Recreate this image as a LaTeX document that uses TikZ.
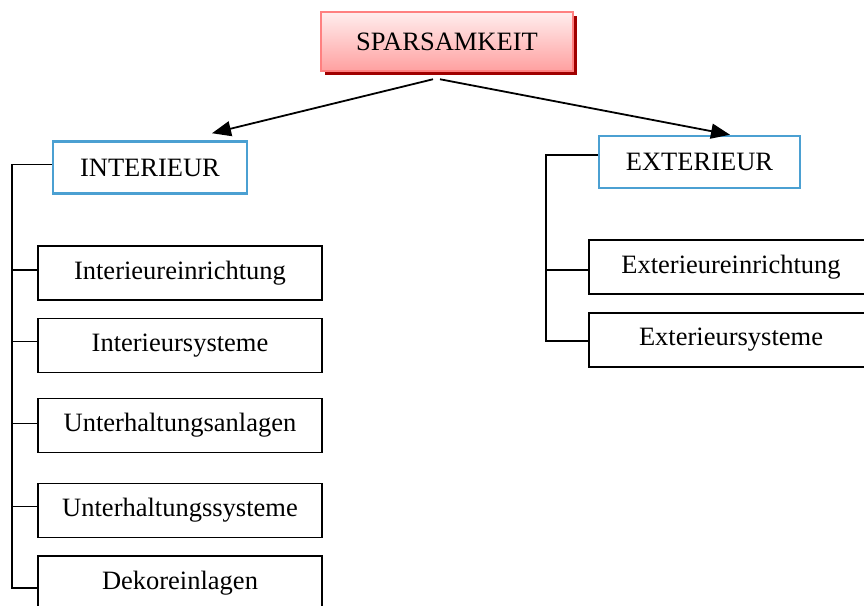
\documentclass[tikz,border=0pt]{standalone}
\usepackage{fontspec}
\setmainfont{Liberation Serif}
\usetikzlibrary{arrows.meta,shadows}
\definecolor{sparborder}{RGB}{255,128,128}
\definecolor{sparshadow}{RGB}{160,0,0}
\definecolor{spartop}{RGB}{255,238,238}
\definecolor{sparbottom}{RGB}{255,160,160}
\definecolor{groupblue}{RGB}{75,160,210}

\begin{document}
\begin{tikzpicture}[x=1pt,y=-1pt]
\tikzstyle{every node}+=[inner sep=0pt,font=\fontsize{26.5}{30}\selectfont]
\tikzstyle{rootbox}=[draw=sparborder,line width=2.5pt,minimum width=252pt,minimum height=59pt,
  top color=spartop,bottom color=sparbottom,
  drop shadow={shadow xshift=4pt,shadow yshift=-4pt,fill=sparshadow,opacity=1}]
\tikzstyle{groupbox}=[draw=groupblue,line width=2.5pt,fill=white,minimum height=52pt]
\tikzstyle{itembox}=[draw=black,line width=1.6pt,fill=white,minimum width=284pt,minimum height=54pt]
\tikzstyle{tree}=[black,line width=1.6pt]
\tikzstyle{branch}=[-{Triangle[length=19pt,width=15pt]},black,line width=1.8pt]
\useasboundingbox (0,0) rectangle (864,605);
\clip (0,0) rectangle (864,605);
\node [rootbox] (spar) at (447,41.5) {SPARSAMKEIT};
\node [groupbox,minimum width=194pt] (inter) at (150,167.5) {INTERIEUR};
\node [groupbox,minimum width=201pt] (exter) at (699.5,162) {EXTERIEUR};
\node [itembox] (ie) at (180,273) {Interieureinrichtung};
\node [itembox] (is) at (180,345.5) {Interieursysteme};
\node [itembox] (ua) at (180,425.5) {Unterhaltungsanlagen};
\node [itembox] (us) at (180,510.5) {Unterhaltungssysteme};
\node [itembox] (dk) at (180,583) {Dekoreinlagen};
\node [itembox] (ee) at (731,267) {Exterieureinrichtung};
\node [itembox] (es) at (731,340) {Exterieursysteme};
\draw [branch] ([xshift=-14pt,yshift=-7pt]spar.south) -- ([xshift=62pt,yshift=7pt]inter.north);
\draw [branch] ([xshift=-7pt,yshift=-7pt]spar.south) -- ([xshift=30.5pt]exter.north);
\coordinate (lspine) at (12,0);
\coordinate (rspine) at (546,0);
\draw [tree] ([yshift=3pt]inter.west) -- ([yshift=3pt]inter.west -| lspine) -- ([yshift=-5pt]dk.west -| lspine) -- ([yshift=-5pt]dk.west);
\draw [tree] ([yshift=3pt]ie.west -| lspine) -- ([yshift=3pt]ie.west);
\draw [tree] ([yshift=4pt]is.west -| lspine) -- ([yshift=4pt]is.west);
\draw [tree] ([yshift=2pt]ua.west -| lspine) -- ([yshift=2pt]ua.west);
\draw [tree] ([yshift=4pt]us.west -| lspine) -- ([yshift=4pt]us.west);
\draw [tree] ([yshift=7pt]exter.west) -- ([yshift=7pt]exter.west -| rspine) -- ([yshift=-1pt]es.west -| rspine) -- ([yshift=-1pt]es.west);
\draw [tree] ([yshift=-3pt]ee.west -| rspine) -- ([yshift=-3pt]ee.west);
\end{tikzpicture}
\end{document}
